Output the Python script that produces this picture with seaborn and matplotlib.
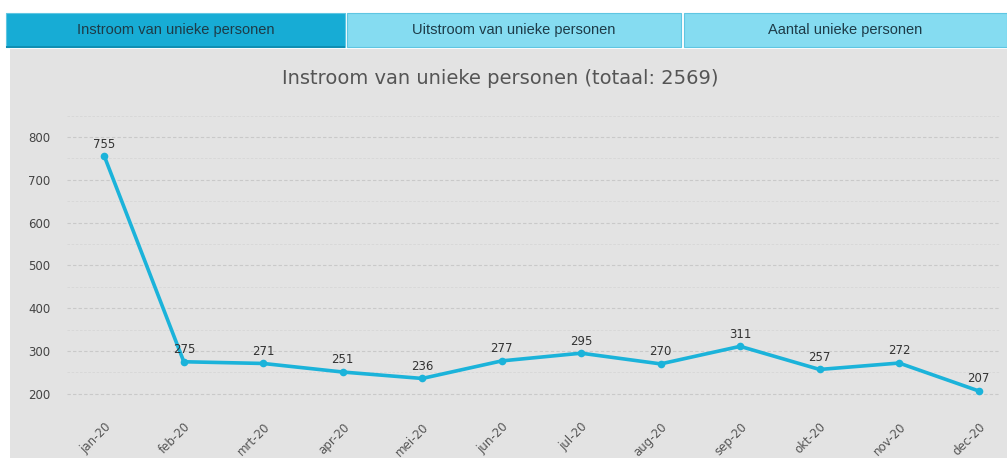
import matplotlib
matplotlib.use('Agg')
import matplotlib.pyplot as plt
from matplotlib.patches import Rectangle
from matplotlib.ticker import MultipleLocator
import pandas as pd
import seaborn as sns

months = ['jan-20', 'feb-20', 'mrt-20', 'apr-20', 'mei-20', 'jun-20',
          'jul-20', 'aug-20', 'sep-20', 'okt-20', 'nov-20', 'dec-20']
instroom = [755, 275, 271, 251, 236, 277, 295, 270, 311, 257, 272, 207]
tabs = ['Instroom van unieke personen', 'Uitstroom van unieke personen', 'Aantal unieke personen']
title = 'Instroom van unieke personen (totaal: 2569)'

W, H = 1007, 458
LINE = '#1bb3da'
BG = '#e3e3e3'

sns.set_theme(style='white')
plt.rcParams['font.family'] = ['DejaVu Sans']

fig = plt.figure(figsize=(W / 100, H / 100), dpi=100)
fig.patch.set_facecolor('white')


def px(x0, y0, x1, y1):
    """Convert pixel box (top-left origin) to figure fraction rect."""
    return [x0 / W, 1 - y1 / H, (x1 - x0) / W, (y1 - y0) / H]


# grey panel behind the chart
l, b, w, h = px(10, 49, W, H)
fig.patches.append(Rectangle((l, b), w, h, transform=fig.transFigure,
                             facecolor=BG, edgecolor='none', zorder=-5))

# tab bar
tab_boxes = [(6, 13, 345, 47), (347, 13, 681, 47), (684, 13, 1007, 47)]
tab_colors = ['#17acd5', '#85dcf1', '#85dcf1']
for (x0, y0, x1, y1), label, col in zip(tab_boxes, tabs, tab_colors):
    l, b, w, h = px(x0, y0, x1, y1)
    fig.patches.append(Rectangle((l, b), w, h, transform=fig.transFigure,
                                 facecolor=col, edgecolor='#5fc6e2', linewidth=0.8, zorder=1))
    fig.text(l + w / 2, b + h / 2, label, ha='center', va='center',
             fontsize=10.5, color='#1d3b48', family=['Liberation Sans', 'DejaVu Sans'],
             zorder=2)
l, b, w, h = px(6, 46, 345, 48)
fig.patches.append(Rectangle((l, b), w, h, transform=fig.transFigure,
                             facecolor='#0f8fb3', edgecolor='none', zorder=2))

fig.text(500 / W, 1 - 78 / H, title, ha='center', va='center',
         fontsize=14, color='#555555')

ax = fig.add_axes(px(67, 110, 1000, 405))
ax.set_facecolor('none')

df = pd.DataFrame({'maand': months, 'aantal': instroom})
sns.lineplot(data=df, x='maand', y='aantal', ax=ax, color=LINE, linewidth=2.6,
             marker='o', markersize=5.5, markeredgewidth=0, sort=False)

for i, v in enumerate(instroom):
    ax.annotate(str(v), (i, v), xytext=(0, 4), textcoords='offset points',
                ha='center', va='bottom', fontsize=8.5, color='#333333')

ax.set_xlim(-0.47, 11.27)
ax.set_ylim(174, 863)
ax.yaxis.set_major_locator(MultipleLocator(100))
ax.yaxis.set_minor_locator(MultipleLocator(50))
ax.set_yticks(range(200, 801, 100))
ax.grid(axis='y', which='major', color='#c9c9c9', linestyle=(0, (3, 2)), linewidth=0.8)
ax.grid(axis='y', which='minor', color='#d6d6d6', linestyle=(0, (3, 2)), linewidth=0.6)
ax.grid(axis='x', visible=False)
for s in ax.spines.values():
    s.set_visible(False)

ax.set_xlabel('')
ax.set_ylabel('')
ax.tick_params(axis='y', which='both', length=0, labelsize=8.5, labelcolor='#444444', pad=12)
ax.tick_params(axis='x', length=0, labelsize=8.5, labelcolor='#555555', pad=11)
plt.setp(ax.get_xticklabels(), rotation=45, ha='right', rotation_mode='anchor')

fig.savefig('out.png', dpi=100)
